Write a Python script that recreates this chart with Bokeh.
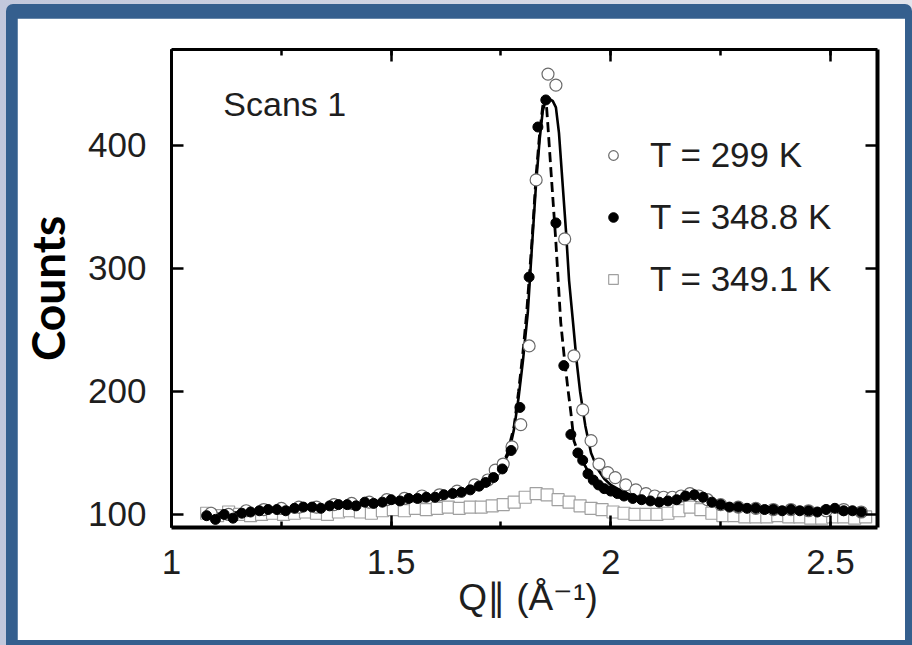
from bokeh.plotting import figure
from bokeh.models import (Range1d, LinearAxis, SingleIntervalTicker, FixedTicker,
                          CustomJSTickFormatter, Legend, LegendItem, Label)
from bokeh.layouts import column
from bokeh.embed import file_html
from bokeh.resources import INLINE

# ---------------- data ----------------
# T = 348.8 K (filled dots)
dots_x = [1.08, 1.10, 1.12, 1.14, 1.16, 1.18, 1.20, 1.22, 1.24, 1.26,
          1.28, 1.30, 1.32, 1.34, 1.36, 1.38, 1.40, 1.42, 1.44, 1.46,
          1.48, 1.50, 1.52, 1.54, 1.56, 1.58, 1.60, 1.62, 1.64, 1.66,
          1.68, 1.70,
          1.715, 1.733, 1.753, 1.773, 1.793, 1.814, 1.834, 1.852, 1.875, 1.893,
          1.909, 1.925, 1.936, 1.948, 1.96, 1.972, 1.985,
          2.00, 2.015, 2.03,
          2.05, 2.07, 2.09, 2.11, 2.13, 2.15, 2.17, 2.19, 2.21, 2.23,
          2.25, 2.27, 2.29, 2.31, 2.33, 2.35, 2.37, 2.39, 2.41, 2.43,
          2.45, 2.47, 2.49, 2.51, 2.53, 2.55, 2.57]
dots_y = [99, 96, 100, 97, 101, 102, 103, 104, 104, 103,
          105, 106, 106, 105, 107, 108, 108, 107, 110, 109,
          110, 112, 111, 113, 113, 114, 114, 116, 117, 118,
          120, 123,
          126, 130, 137, 152, 187, 293, 415, 437, 337, 221,
          165, 150, 144, 133, 128, 124, 121,
          119, 117, 115,
          113, 112, 111, 110, 111, 112, 115, 116, 114, 110,
          108, 106, 106, 105, 105, 104, 104, 103, 104, 103,
          103, 102, 104, 105, 103, 103, 102]

# T = 299 K (open circles)
circ_x = [1.09, 1.13, 1.17, 1.21, 1.25, 1.29, 1.33, 1.37, 1.41, 1.45,
          1.49, 1.53, 1.57, 1.61, 1.65, 1.69,
          1.72, 1.737, 1.755, 1.775, 1.795, 1.814, 1.83, 1.857, 1.875, 1.895,
          1.916, 1.936, 1.955, 1.973, 1.993, 2.01, 2.034, 2.057, 2.08, 2.10,
          2.12, 2.14, 2.16, 2.18, 2.20, 2.22,
          2.25, 2.29, 2.33, 2.37, 2.41, 2.45, 2.49, 2.53, 2.57]
circ_y = [101, 100, 103, 104, 105, 106, 106, 108, 109, 110,
          112, 113, 115, 116, 119, 124,
          128, 136, 141, 155, 173, 237, 372, 458, 449, 324,
          229, 185, 160, 141, 134, 130, 124, 120, 117, 115,
          114, 114, 115, 117, 115, 112,
          108, 106, 105, 104, 104, 103, 103, 104, 102]

# T = 349.1 K (open squares)
sq_x = [1.080, 1.105, 1.130, 1.155, 1.180, 1.205, 1.230, 1.255, 1.280, 1.305,
        1.330, 1.355, 1.380, 1.405, 1.430, 1.455, 1.480, 1.505, 1.530, 1.555,
        1.580, 1.605, 1.630, 1.655, 1.680, 1.705, 1.730, 1.755, 1.780, 1.805,
        1.830, 1.855, 1.880, 1.905, 1.930, 1.955, 1.980, 2.005, 2.030, 2.055,
        2.080, 2.105, 2.130, 2.155, 2.180, 2.205, 2.230, 2.255, 2.280, 2.305,
        2.330, 2.355, 2.380, 2.405, 2.430, 2.455, 2.480, 2.505, 2.530, 2.555,
        2.580]
sq_y = [101, 99, 102, 100, 99, 100, 101, 100, 101, 102,
        101, 100, 102, 103, 102, 101, 103, 104, 103, 105,
        104, 105, 106, 105, 106, 106, 107, 108, 110, 114,
        117, 116, 112, 110, 107, 105, 104, 102, 101, 100,
        100, 100, 101, 103, 106, 104, 101, 99, 99, 98,
        98, 98, 99, 98, 98, 97, 97, 98, 98, 97,
        98]

# fit curves
fit_solid_x = [1.08, 1.20, 1.30, 1.40, 1.50, 1.60, 1.66, 1.70, 1.73, 1.75,
               1.768, 1.78, 1.79, 1.80, 1.811, 1.82, 1.83, 1.838, 1.845, 1.852,
               1.86, 1.868, 1.875, 1.882, 1.89, 1.898, 1.905, 1.914, 1.922, 1.93,
               1.942, 1.955, 1.97, 1.985, 2.00, 2.03, 2.06, 2.10, 2.14, 2.17,
               2.19, 2.21, 2.24, 2.28, 2.34, 2.40, 2.46, 2.52, 2.58]
fit_solid_y = [100, 103, 105, 108, 111, 115, 119, 124, 131, 138,
               150, 170, 195, 225, 264, 315, 370, 405, 428, 437,
               438, 436, 431, 410, 370, 330, 290, 256, 225, 200,
               172, 150, 137, 129, 124, 118, 114, 112, 112, 115,
               116, 113, 109, 106, 104, 103, 103, 103, 102]

fit_dash_x = [1.08, 1.20, 1.30, 1.40, 1.50, 1.60, 1.66, 1.70, 1.73, 1.75,
              1.765, 1.78, 1.79, 1.80, 1.808, 1.82, 1.83, 1.838, 1.845, 1.852,
              1.857, 1.864, 1.875, 1.886, 1.894, 1.902, 1.909, 1.916, 1.926, 1.936,
              1.95, 1.97, 2.00, 2.03, 2.06, 2.10, 2.14, 2.17, 2.19, 2.21,
              2.24, 2.28, 2.34, 2.40, 2.46, 2.52, 2.58]
fit_dash_y = [100, 102, 104, 107, 110, 114, 118, 123, 130, 138,
              150, 172, 200, 232, 262, 320, 376, 410, 432, 440,
              415, 378, 321, 256, 228, 203, 183, 160, 150, 143,
              134, 125, 119, 115, 112, 110, 111, 114, 115, 112,
              108, 105, 103, 102, 102, 102, 101]

y_ticks = [100, 200, 300, 400]
legend_labels = ["T = 299 K", "T = 348.8 K", "T = 349.1 K"]
x_title = "Q\u2225 (\u00c5\u207b\u00b9)"
y_title = "Counts"
note = "Scans 1"

# ---------------- figure ----------------
FONT = "Liberation Sans"
p = figure(width=888, height=622, output_backend="svg", toolbar_location=None,
           x_range=Range1d(1.0, 2.607), y_range=Range1d(89.4, 478),
           min_border_left=153, min_border_right=28, min_border_top=31,
           min_border_bottom=113, background_fill_color="white",
           border_fill_color="white")
p.grid.visible = False
p.outline_line_color = None
p.margin = (14, 7, 5, 11)

def style_axis(ax, width, labels=True):
    ax.axis_line_width = width
    ax.axis_line_color = "black"
    ax.major_tick_in = 12
    ax.major_tick_out = 0
    ax.minor_tick_in = 6
    ax.minor_tick_out = 0
    ax.major_tick_line_width = 2.5
    ax.minor_tick_line_width = 2.5
    ax.major_tick_line_color = "black"
    ax.minor_tick_line_color = "black"
    ax.major_label_text_font = FONT
    ax.major_label_text_font_size = "35px" if labels else "0px"
    ax.major_label_text_color = "#1e1e1e"

xb = p.xaxis[0]
xb.ticker = SingleIntervalTicker(interval=0.5, num_minor_ticks=2)
xb.formatter = CustomJSTickFormatter(code="return String(Math.round(tick*10)/10);")
style_axis(xb, 4)
xb.major_label_standoff = 22
xb.axis_label = x_title
xb.axis_label_text_font = FONT
xb.axis_label_text_font_style = "normal"
xb.axis_label_text_font_size = "37px"
xb.axis_label_text_color = "#1e1e1e"
xb.axis_label_standoff = 0

yl = p.yaxis[0]
yl.ticker = FixedTicker(ticks=y_ticks)
style_axis(yl, 3)
yl.minor_tick_line_color = None
yl.major_label_standoff = 25
yl.axis_label = y_title
yl.axis_label_text_font = "Lato"
yl.axis_label_text_font_style = "bold"
yl.axis_label_text_font_size = "46px"
yl.axis_label_text_color = "black"
yl.axis_label_standoff = 10

xt = LinearAxis(ticker=SingleIntervalTicker(interval=0.5, num_minor_ticks=2),
                formatter=CustomJSTickFormatter(code="return '';"))
style_axis(xt, 3, labels=False)
p.add_layout(xt, "above")

yr = LinearAxis(ticker=FixedTicker(ticks=y_ticks),
                formatter=CustomJSTickFormatter(code="return '';"))
style_axis(yr, 4, labels=False)
yr.minor_tick_line_color = None
p.add_layout(yr, "right")

# data
r_sq = p.scatter(sq_x, sq_y, marker="square", size=12, fill_color="white",
                 line_color="#a0a0a0", line_width=1.2)
p.line(fit_solid_x, fit_solid_y, line_color="black", line_width=2.6)
p.line(fit_dash_x, fit_dash_y, line_color="black", line_width=2.8, line_dash="10 5")
r_c = p.scatter(circ_x, circ_y, marker="circle", size=12, fill_color="white",
                line_color="#6a6a6a", line_width=1.2)
r_d = p.scatter(dots_x, dots_y, marker="circle", size=10, fill_color="black",
                line_color="black")

leg = Legend(items=[LegendItem(label=legend_labels[0], renderers=[r_c]),
                    LegendItem(label=legend_labels[1], renderers=[r_d]),
                    LegendItem(label=legend_labels[2], renderers=[r_sq])],
             location=(430, 228), orientation="vertical",
             background_fill_alpha=0, border_line_color=None,
             label_text_font=FONT, label_text_font_size="35px",
             label_text_color="#1e1e1e", glyph_width=24, glyph_height=40,
             label_height=40, spacing=22, label_standoff=25, padding=0, margin=0)
p.add_layout(leg)

p.add_layout(Label(x=1.118, y=418.5, text=note, text_font=FONT,
                   text_font_size="34px", text_color="#1e1e1e"))

inner = column(p, styles={"background-color": "#355f8e",
                          "border-radius": "7px 7px 0 0"})
inner.margin = (4, 0, 0, 6)
outer = column(inner, styles={"background": "linear-gradient(90deg, #c2c8dc, #e2e4ec)"})

open("out.html", "w").write(file_html(outer, INLINE))
